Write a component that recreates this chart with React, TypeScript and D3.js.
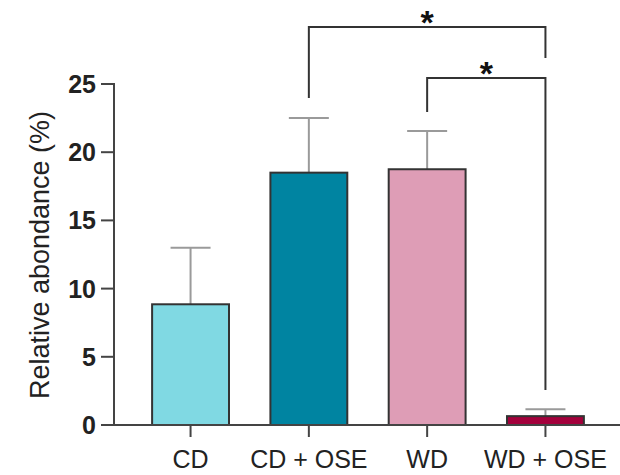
import React from "react";
import * as d3 from "d3";

const categories = ["CD", "CD + OSE", "WD", "WD + OSE"];
const means = [8.85, 18.5, 18.75, 0.65];
const errors = [4.15, 4.0, 2.8, 0.5];
const colors = ["#80d9e3", "#0084a1", "#de9db6", "#a3003b"];
const yTicks = [0, 5, 10, 15, 20, 25];
const brackets = [
  { from: 1, to: 3, level: 27, leftEnd: 98, rightEnd: 58, label: "*" },
  { from: 2, to: 3, level: 78, leftEnd: 112, rightEnd: 390, label: "*" },
];

export default function App() {
  const W = 620, H = 475;
  const y = d3.scaleLinear().domain([0, 25]).range([425, 84]);
  const x = d3.scaleBand().domain(categories).range([132, 604]).paddingInner(0.35).paddingOuter(0.17);
  const axisX = 114;
  const font = "'Liberation Sans', Arial, sans-serif";
  return (
    <svg width={W} height={H} style={{ position: "absolute", left: 0, top: 0 }} fontFamily={font}>
      <rect width={W} height={H} fill="#fff" />
      {categories.map((c, i) => {
        const cx = x(c)! + x.bandwidth() / 2;
        return (
          <g key={c}>
            <line x1={cx} x2={cx} y1={y(means[i])} y2={y(means[i] + errors[i])} stroke="#9a9a9a" strokeWidth={2} />
            <line x1={cx - 20} x2={cx + 20} y1={y(means[i] + errors[i])} y2={y(means[i] + errors[i])} stroke="#9a9a9a" strokeWidth={2} />
            <rect x={x(c)} y={y(means[i])} width={x.bandwidth()} height={y(0) - y(means[i])} fill={colors[i]} stroke="#333" strokeWidth={2} />
            <line x1={cx} x2={cx} y1={y(0)} y2={y(0) + 12} stroke="#444" strokeWidth={2} />
            <text x={cx} y={468} textAnchor="middle" fontSize={25} fill="#222">{c}</text>
          </g>
        );
      })}
      <line x1={axisX} x2={W} y1={y(0)} y2={y(0)} stroke="#444" strokeWidth={2} />
      <line x1={axisX} x2={axisX} y1={y(25) - 1} y2={y(0) + 1} stroke="#444" strokeWidth={2} />
      {yTicks.map((t) => (
        <g key={t}>
          <line x1={axisX - 13} x2={axisX} y1={y(t)} y2={y(t)} stroke="#444" strokeWidth={2} />
          <text x={96} y={y(t)} dy="0.36em" textAnchor="end" fontSize={25} fontWeight="bold" fill="#222">{t}</text>
        </g>
      ))}
      <text transform={`translate(49,255) rotate(-90)`} textAnchor="middle" fontSize={27} fill="#222">Relative abondance (%)</text>
      {brackets.map((b, i) => {
        const x1 = x(categories[b.from])! + x.bandwidth() / 2;
        const x2 = x(categories[b.to])! + x.bandwidth() / 2;
        return (
          <g key={i}>
            <path d={`M${x1},${b.leftEnd}V${b.level}H${x2}V${b.rightEnd}`} fill="none" stroke="#333" strokeWidth={2} />
            <text x={(x1 + x2) / 2} y={b.level + 7} textAnchor="middle" fontSize={34} fontWeight="bold" fill="#111">{b.label}</text>
          </g>
        );
      })}
    </svg>
  );
}
